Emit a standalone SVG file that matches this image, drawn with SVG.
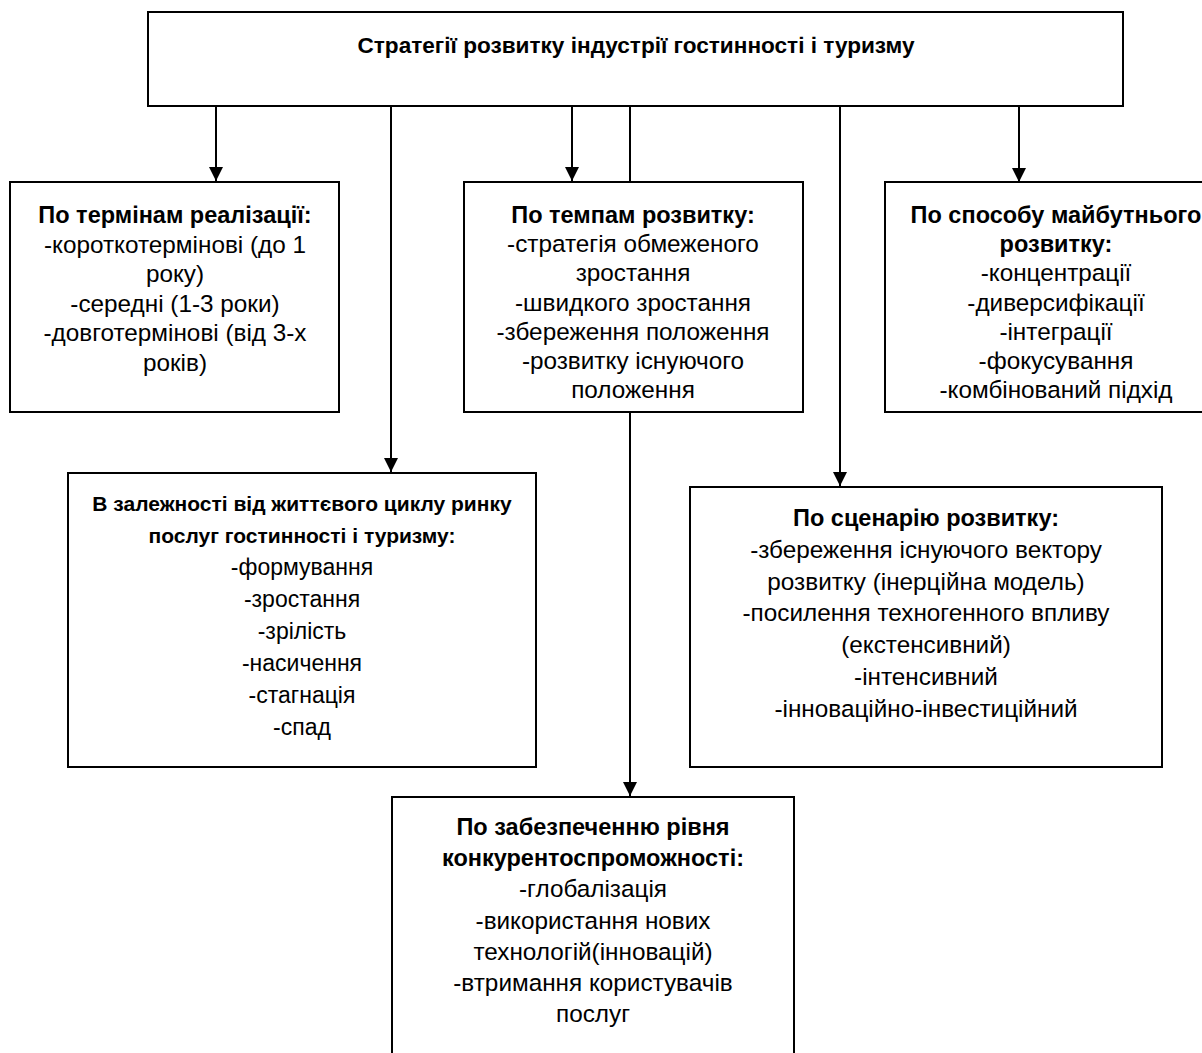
<svg xmlns="http://www.w3.org/2000/svg" width="1202" height="1053" viewBox="0 0 1202 1053">
<style>
.box{fill:#fff;stroke:#000;stroke-width:2}
.t{font-family:"Liberation Sans",Arial,sans-serif;font-size:24.3px;text-anchor:middle;fill:#000}
.b{font-weight:bold;font-size:23.5px}
.top{font-size:22.6px}
.sb{font-size:21px}
.sm{font-size:23px}
.c{stroke:#000;stroke-width:2;fill:none}
</style>
<defs>
<marker id="arr" markerWidth="14" markerHeight="14" refX="14" refY="7" orient="auto" markerUnits="userSpaceOnUse" viewBox="0 0 14 14">
<path d="M0,0 L14,7 L0,14 Z" fill="#000"/>
</marker>
</defs>
<rect width="1202" height="1053" fill="#fff"/>
<g id="connectors">
<line class="c" x1="216" y1="106" x2="216" y2="181" marker-end="url(#arr)"/>
<line class="c" x1="391" y1="106" x2="391" y2="472" marker-end="url(#arr)"/>
<line class="c" x1="572" y1="106" x2="572" y2="181" marker-end="url(#arr)"/>
<line class="c" x1="630" y1="106" x2="630" y2="182"/>
<line class="c" x1="630" y1="412" x2="630" y2="796" marker-end="url(#arr)"/>
<line class="c" x1="840" y1="106" x2="840" y2="486" marker-end="url(#arr)"/>
<line class="c" x1="1019" y1="106" x2="1019" y2="182" marker-end="url(#arr)"/>
</g>
<g id="root">
<rect class="box" x="148" y="12" width="975" height="94"/>
<text class="t b top" x="636" y="53">Стратегії розвитку індустрії гостинності і туризму</text>
</g>
<g id="n-terms">
<rect class="box" x="10" y="182" width="329" height="230"/>
<text class="t" x="175" y="223"><tspan class="b">По термінам реалізації:</tspan><tspan x="175" dy="29.5">-короткотермінові (до 1</tspan><tspan x="175" dy="29.5">року)</tspan><tspan x="175" dy="29.5">-середні (1-3 роки)</tspan><tspan x="175" dy="29.5">-довготермінові (від 3-х</tspan><tspan x="175" dy="29.5">років)</tspan></text>
</g>
<g id="n-pace">
<rect class="box" x="464" y="182" width="339" height="230"/>
<text class="t" x="633" y="223"><tspan class="b">По темпам розвитку:</tspan><tspan x="633" dy="29.2">-стратегія обмеженого</tspan><tspan x="633" dy="29.2">зростання</tspan><tspan x="633" dy="29.2">-швидкого зростання</tspan><tspan x="633" dy="29.2">-збереження положення</tspan><tspan x="633" dy="29.2">-розвитку існуючого</tspan><tspan x="633" dy="29.2">положення</tspan></text>
</g>
<g id="n-future">
<rect class="box" x="885" y="182" width="345" height="230"/>
<text class="t" x="1056" y="223"><tspan class="b">По способу майбутнього</tspan><tspan class="b" x="1056" dy="29.2">розвитку:</tspan><tspan x="1056" dy="29.2">-концентрації</tspan><tspan x="1056" dy="29.2">-диверсифікації</tspan><tspan x="1056" dy="29.2">-інтеграції</tspan><tspan x="1056" dy="29.2">-фокусування</tspan><tspan x="1056" dy="29.2">-комбінований підхід</tspan></text>
</g>
<g id="n-lifecycle">
<rect class="box" x="68" y="473" width="468" height="294"/>
<text class="t sm" x="302" y="511"><tspan class="b sb">В залежності від життєвого циклу ринку</tspan><tspan class="b sb" x="302" dy="32">послуг гостинності і туризму:</tspan><tspan x="302" dy="32">-формування</tspan><tspan x="302" dy="32">-зростання</tspan><tspan x="302" dy="32">-зрілість</tspan><tspan x="302" dy="32">-насичення</tspan><tspan x="302" dy="32">-стагнація</tspan><tspan x="302" dy="32">-спад</tspan></text>
</g>
<g id="n-scenario">
<rect class="box" x="690" y="487" width="472" height="280"/>
<text class="t" x="926" y="526"><tspan class="b">По сценарію розвитку:</tspan><tspan x="926" dy="31.8">-збереження існуючого вектору</tspan><tspan x="926" dy="31.8">розвитку (інерційна модель)</tspan><tspan x="926" dy="31.8">-посилення техногенного впливу</tspan><tspan x="926" dy="31.8">(екстенсивний)</tspan><tspan x="926" dy="31.8">-інтенсивний</tspan><tspan x="926" dy="31.8">-інноваційно-інвестиційний</tspan></text>
</g>
<g id="n-competitive">
<rect class="box" x="392" y="797" width="402" height="270"/>
<text class="t" x="593" y="835"><tspan class="b">По забезпеченню рівня</tspan><tspan class="b" x="593" dy="31.2">конкурентоспроможності:</tspan><tspan x="593" dy="31.2">-глобалізація</tspan><tspan x="593" dy="31.2">-використання нових</tspan><tspan x="593" dy="31.2">технологій(інновацій)</tspan><tspan x="593" dy="31.2">-втримання користувачів</tspan><tspan x="593" dy="31.2">послуг</tspan></text>
</g>
</svg>
